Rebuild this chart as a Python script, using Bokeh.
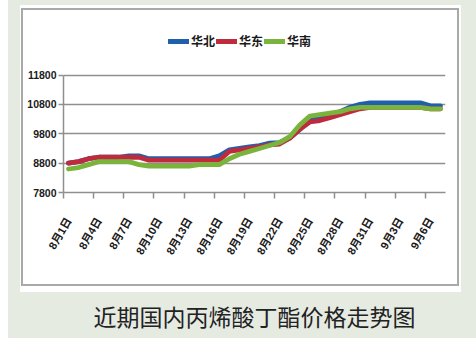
import math
from bokeh.plotting import figure
from bokeh.models import Range1d, FixedTicker, Legend, LegendItem
from bokeh.embed import file_html
from bokeh.resources import INLINE

# ---------------- data ----------------
dates = ["8月1日", "8月2日", "8月3日", "8月4日", "8月5日", "8月6日", "8月7日",
         "8月8日", "8月9日", "8月10日", "8月11日", "8月12日", "8月13日",
         "8月14日", "8月15日", "8月16日", "8月17日", "8月18日", "8月19日",
         "8月20日", "8月21日", "8月22日", "8月23日", "8月24日", "8月25日",
         "8月26日", "8月27日", "8月28日", "8月29日", "8月30日", "8月31日",
         "9月1日", "9月2日", "9月3日", "9月4日", "9月5日", "9月6日", "9月7日"]

north = [8800, 8850, 8950, 9000, 9000, 9000, 9050, 9050, 8950, 8950,
         8950, 8950, 8950, 8950, 8950, 9050, 9250, 9300, 9350, 9400,
         9480, 9500, 9650, 9950, 10250, 10350, 10450, 10550, 10700, 10800,
         10850, 10850, 10850, 10850, 10850, 10850, 10750, 10750]
east = [8800, 8850, 8950, 9000, 9000, 9000, 9000, 9000, 8900, 8900,
        8900, 8900, 8900, 8900, 8900, 8900, 9200, 9250, 9300, 9350,
        9420, 9450, 9650, 9950, 10200, 10250, 10350, 10450, 10550, 10650,
        10700, 10700, 10700, 10700, 10700, 10700, 10650, 10650]
south = [8600, 8650, 8750, 8850, 8850, 8850, 8850, 8750, 8700, 8700,
         8700, 8700, 8700, 8750, 8750, 8750, 8950, 9100, 9200, 9300,
         9400, 9500, 9700, 10100, 10400, 10450, 10500, 10550, 10650, 10700,
         10700, 10700, 10700, 10700, 10700, 10700, 10650, 10650]

series_names = ["华北", "华东", "华南"]
y_ticks = [7800, 8800, 9800, 10800, 11800]
label_step = 3
title_text = "近期国内丙烯酸丁酯价格走势图"

# ---------------- styles / geometry ----------------
W, H = 476, 353
FL, FR, FT, FB = 63, 445, 26, 192          # frame edges (px); legend lives in the top part
Y_TOP_PX = 74.5                              # pixel row of the top tick
X0, X1 = -0.5, len(dates) - 0.5
Y0 = y_ticks[0]
Y1 = Y0 + (FB - FT) * (y_ticks[-1] - y_ticks[0]) / (FB - Y_TOP_PX)
BG = "#e6ebe2"
GRID = "#8f8f8f"
BORDER = "#a9a9a9"
COLORS = ["#1f5fae", "#be2b3d", "#7ab43c"]
SANS = "'Liberation Sans', 'Noto Sans CJK SC', sans-serif"
CJK = "Noto Sans CJK SC"


def layer(color, x, y, w, h):
    return f"linear-gradient({color},{color}) {x}px {y}px / {w}px {h}px no-repeat"


page_bg = ", ".join([
    layer(BORDER, 21, 8, 438, 2),
    layer(BORDER, 21, 284, 438, 2),
    layer(BORDER, 21, 8, 2, 278),
    layer(BORDER, 457, 8, 2, 278),
    layer("#ffffff", 20, 5, 441, 287),
    layer(BG, 8, 0, 468, 338),
    "#ffffff",
])

xs = list(range(len(dates)))

p = figure(width=W, height=H, output_backend="svg", toolbar_location=None,
           x_range=Range1d(X0, X1), y_range=Range1d(Y0, Y1),
           min_border_left=FL, min_border_right=W - FR,
           min_border_top=FT, min_border_bottom=H - FB,
           styles={"background": page_bg})
p.border_fill_color = None
p.background_fill_color = None
p.outline_line_color = None

renderers = []
for ys, c in zip([north, east, south], COLORS):
    r = p.line(xs, ys, line_color=c, line_width=4.8, line_join="round",
               line_cap="round")
    renderers.append(r)

# x axis: tick marks at category boundaries (minor), labels at category centres
xa = p.xaxis[0]
label_pos = xs[::label_step]
xa.ticker = FixedTicker(ticks=label_pos,
                        minor_ticks=[i - 0.5 for i in label_pos])
xa.major_label_overrides = {i: dates[i] for i in label_pos}
xa.major_tick_out = 0
xa.major_tick_in = 0
xa.major_tick_line_color = None
xa.minor_tick_out = 6
xa.minor_tick_in = 0
xa.minor_tick_line_color = GRID
xa.minor_tick_line_width = 1.5
xa.axis_line_color = GRID
xa.axis_line_width = 1.5
xa.major_label_orientation = math.radians(60)
xa.major_label_standoff = 20
xa.major_label_text_font = SANS
xa.major_label_text_font_size = "11px"
xa.major_label_text_font_style = "bold"
xa.major_label_text_color = "#1a1a1a"
# caption under the chart panel
xa.axis_label = title_text
xa.axis_label_standoff = 37
xa.axis_label_text_font = CJK
xa.axis_label_text_font_size = "23px"
xa.axis_label_text_font_style = "normal"
xa.axis_label_text_color = "#222222"

ya = p.yaxis[0]
ya.ticker = FixedTicker(ticks=y_ticks, minor_ticks=[])
ya.bounds = (y_ticks[0], y_ticks[-1])
ya.major_tick_out = 5
ya.major_tick_in = 0
ya.major_tick_line_color = GRID
ya.major_tick_line_width = 1.5
ya.axis_line_color = GRID
ya.axis_line_width = 1.5
ya.major_label_standoff = 2
ya.major_label_text_font = SANS
ya.major_label_text_font_size = "10.5px"
ya.major_label_text_font_style = "bold"
ya.major_label_text_color = "#1a1a1a"

p.xgrid.visible = False
p.ygrid.ticker = FixedTicker(ticks=y_ticks)
p.ygrid.grid_line_color = GRID
p.ygrid.grid_line_width = 1.5

# legend at the top of the plot area
legend = Legend(items=[LegendItem(label=n, renderers=[r])
                       for n, r in zip(series_names, renderers)],
                location=(105, 143), orientation="horizontal",
                glyph_width=21, glyph_height=14, label_height=14,
                label_standoff=2, spacing=1, padding=0, margin=0,
                border_line_color=None, background_fill_alpha=0,
                label_text_font=CJK, label_text_font_size="12px",
                label_text_font_style="bold", label_text_color="#1a1a1a")
p.add_layout(legend, "center")

open("out.html", "w").write(file_html(p, INLINE))
